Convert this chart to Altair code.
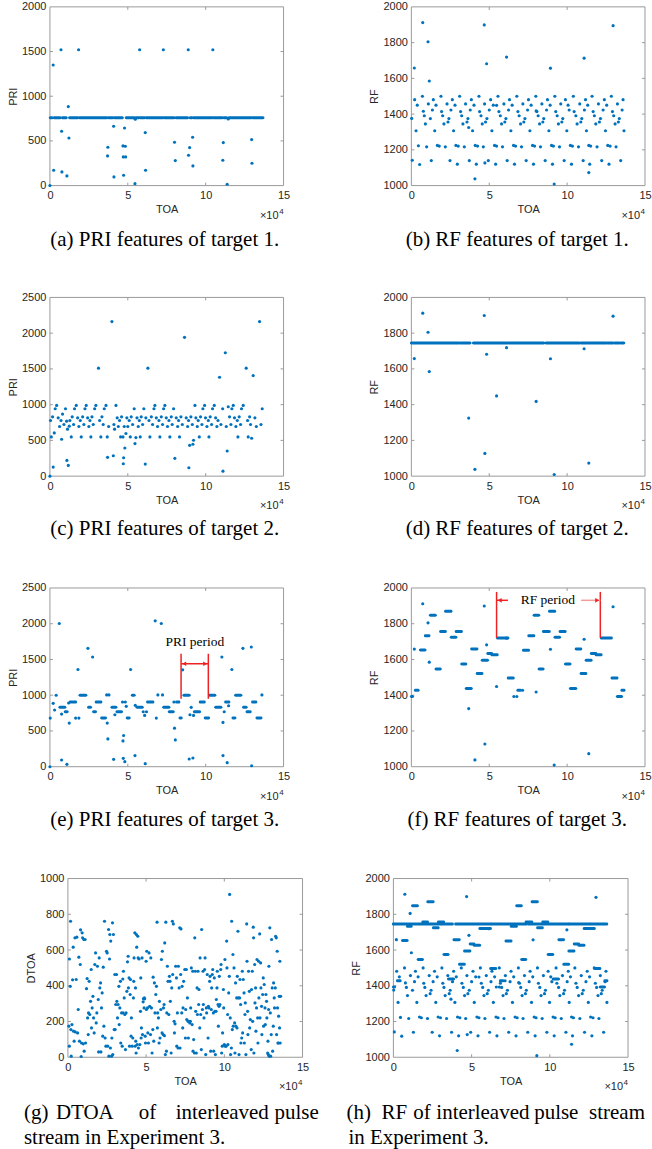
import altair as alt
import pandas as pd

BLUE = "#0072BD"
AX = "#9a9a9a"
TXT = "#262626"
RED = "#ee2222"
SANS = "Liberation Sans"
SERIF = "Liberation Serif"

# ---------------- data (TOA in units of 1e4) ----------------
noise_pts = [(0.19, 1658), (0.73, 1912), (1.07, 1805), (1.15, 1585), (3.68, 1325), (4.08, 1038),
             (4.68, 1899), (4.72, 1127), (4.83, 1682), (5.47, 1449), (6.11, 1719), (8.01, 1418),
             (8.93, 1657), (9.17, 1009), (11.09, 1713), (11.39, 1073), (12.95, 1895)]

a_line_level = 760
a_line_segs = [(0.02, 0.15), (0.27, 0.66), (0.8, 1.05), (1.26, 1.8), (1.9, 3.66), (3.76, 4.05),
               (4.15, 4.65), (4.9, 5.42), (5.52, 5.72), (5.8, 6.08), (6.18, 7.24), (7.32, 7.97),
               (8.09, 8.84), (9.0, 9.12), (9.22, 10.42), (10.5, 11.07), (11.17, 11.35),
               (11.49, 12.92), (13.01, 13.68)]
a_pts = [(0, 0), (0.21, 1350), (0.24, 172), (0.71, 1520), (0.75, 608), (0.77, 153), (1.09, 108),
         (1.18, 884), (1.22, 533), (1.84, 1520), (3.70, 332), (3.72, 429), (4.09, 664), (4.11, 97),
         (4.69, 444), (4.71, 321), (4.73, 116), (4.79, 645), (4.84, 440), (4.86, 321), (5.46, 22),
         (5.48, 742), (5.76, 1520), (6.12, 593), (6.14, 172), (7.28, 1520), (8.0, 485), (8.05, 280),
         (8.88, 1520), (8.9, 340), (8.97, 425), (9.16, 541), (9.18, 220), (10.46, 1520), (11.1, 284),
         (11.13, 481), (11.38, 15), (11.45, 746), (12.95, 515), (12.97, 250)]

b_pts = [(0.02, 1376), (0.06, 1142), (0.21, 1481), (0.30, 1307), (0.38, 1450), (0.45, 1223), (0.53, 1118),
         (0.71, 1500), (0.77, 1416), (0.83, 1391), (0.90, 1345), (0.98, 1217), (1.09, 1457), (1.22, 1375),
         (1.28, 1140), (1.35, 1423), (1.41, 1481), (1.50, 1307), (1.58, 1450), (1.67, 1225), (1.79, 1221),
         (1.90, 1500), (1.94, 1414), (2.01, 1391), (2.09, 1345), (2.18, 1217), (2.29, 1457), (2.35, 1356),
         (2.41, 1375), (2.48, 1140), (2.54, 1423), (2.63, 1481), (2.71, 1307), (2.80, 1450), (2.86, 1225),
         (2.95, 1120), (3.01, 1221), (3.10, 1500), (3.16, 1414), (3.23, 1391), (3.31, 1345), (3.40, 1217),
         (3.48, 1457), (3.57, 1356), (3.63, 1375), (3.72, 1140), (3.78, 1423), (3.85, 1481), (3.93, 1307),
         (4.02, 1450), (4.10, 1225), (4.17, 1120), (4.25, 1221), (4.34, 1500), (4.38, 1414), (4.47, 1391),
         (4.55, 1345), (4.62, 1217), (4.70, 1457), (4.76, 1356), (4.85, 1375), (4.94, 1140), (5.00, 1423),
         (5.09, 1481), (5.17, 1307), (5.26, 1450), (5.34, 1225), (5.41, 1120), (5.47, 1221), (5.56, 1500),
         (5.62, 1414), (5.71, 1391), (5.79, 1345), (5.85, 1217), (5.94, 1457), (6.00, 1356), (6.07, 1375),
         (6.15, 1140), (6.24, 1423), (6.30, 1481), (6.39, 1307), (6.47, 1450), (6.56, 1225), (6.62, 1120),
         (6.69, 1221), (6.77, 1500), (6.84, 1414), (6.92, 1391), (7.01, 1345), (7.07, 1217), (7.16, 1457),
         (7.22, 1356), (7.29, 1375), (7.37, 1140), (7.46, 1423), (7.52, 1481), (7.61, 1307), (7.69, 1450),
         (7.78, 1225), (7.84, 1120), (7.91, 1221), (7.99, 1500), (8.06, 1414), (8.14, 1391), (8.23, 1345),
         (8.29, 1217), (8.38, 1457), (8.44, 1356), (8.50, 1375), (8.59, 1140), (8.68, 1423), (8.74, 1481),
         (8.83, 1307), (8.91, 1450), (9.00, 1225), (9.06, 1120), (9.12, 1221), (9.21, 1500), (9.27, 1414),
         (9.36, 1391), (9.44, 1345), (9.51, 1217), (9.59, 1457), (9.66, 1356), (9.72, 1375), (9.81, 1140),
         (9.89, 1481), (9.98, 1307), (10.06, 1450), (10.13, 1423), (10.21, 1225), (10.28, 1120),
         (10.34, 1221), (10.40, 1500), (10.45, 1414), (10.56, 1391), (10.64, 1345), (10.73, 1217),
         (10.81, 1457), (10.88, 1356), (10.94, 1375), (11.03, 1140), (11.11, 1423), (11.18, 1481),
         (11.24, 1307), (11.32, 1450), (11.39, 1225), (11.45, 1120), (11.51, 1221), (11.60, 1500),
         (11.67, 1414), (11.75, 1391), (11.84, 1345), (11.92, 1217), (12.01, 1457), (12.07, 1356),
         (12.14, 1375), (12.22, 1140), (12.31, 1423), (12.39, 1481), (12.46, 1307), (12.54, 1450),
         (12.61, 1225), (12.69, 1120), (12.76, 1221), (12.84, 1500), (12.91, 1414), (12.99, 1391),
         (13.08, 1345), (13.14, 1217), (13.23, 1457), (13.29, 1356), (13.35, 1375), (13.44, 1140),
         (13.53, 1423), (13.59, 1481), (13.65, 1307)]

c_pts = [(0, 0), (0.04, 779), (0.09, 549), (0.17, 830), (0.21, 127), (0.28, 605), (0.34, 943), (0.43, 990),
         (0.53, 816), (0.62, 694), (0.71, 779), (0.75, 516), (0.81, 868), (0.9, 722), (1.0, 943), (1.07, 769),
         (1.09, 220), (1.13, 657), (1.18, 150), (1.24, 699), (1.28, 779), (1.37, 549), (1.43, 830), (1.52, 722),
         (1.58, 943), (1.69, 990), (1.78, 816), (1.86, 694), (1.95, 779), (2.01, 549), (2.1, 830), (2.18, 722),
         (2.25, 943), (2.33, 990), (2.42, 816), (2.5, 694), (2.57, 779), (2.63, 549), (2.7, 830), (2.78, 722),
         (2.87, 943), (2.95, 990), (3.12, 1510), (3.19, 779), (3.27, 549), (3.34, 830), (3.42, 722),
         (3.49, 943), (3.6, 990), (3.68, 549), (3.7, 263), (3.77, 694), (3.98, 2162), (4.07, 286), (4.11, 722),
         (4.15, 657), (4.24, 990), (4.32, 816), (4.39, 694), (4.47, 779), (4.54, 549), (4.6, 830), (4.69, 549),
         (4.71, 174), (4.73, 258), (4.77, 694), (4.81, 394), (4.88, 596), (4.94, 816), (5.0, 694), (5.09, 779),
         (5.16, 549), (5.22, 830), (5.31, 722), (5.41, 943), (5.46, 455), (5.52, 539), (5.59, 816), (5.67, 694),
         (5.74, 779), (5.8, 549), (5.86, 830), (5.95, 722), (6.03, 943), (6.12, 169), (6.16, 816), (6.29, 1510),
         (6.36, 779), (6.42, 549), (6.51, 830), (6.59, 722), (6.68, 943), (6.74, 990), (6.83, 816), (6.91, 694),
         (7.0, 779), (7.06, 549), (7.15, 830), (7.23, 722), (7.3, 943), (7.38, 990), (7.47, 816), (7.55, 694),
         (7.64, 779), (7.7, 549), (7.79, 830), (7.85, 722), (7.94, 943), (8.02, 249), (8.11, 816), (8.2, 694),
         (8.26, 779), (8.32, 549), (8.41, 830), (8.5, 722), (8.64, 1942), (8.75, 816), (8.84, 694), (8.9, 779),
         (8.92, 117), (8.97, 431), (9.05, 830), (9.14, 722), (9.18, 446), (9.22, 502), (9.31, 990), (9.37, 816),
         (9.46, 694), (9.52, 779), (9.59, 549), (9.67, 830), (9.76, 722), (9.82, 943), (9.93, 990), (9.99, 816),
         (10.08, 694), (10.17, 779), (10.21, 549), (10.29, 830), (10.38, 722), (10.44, 943), (10.55, 990),
         (10.64, 816), (10.72, 694), (10.79, 779), (10.89, 1384), (10.98, 722), (11.09, 943), (11.11, 70),
         (11.26, 1726), (11.32, 694), (11.38, 352), (11.45, 971), (11.53, 830), (11.62, 722), (11.68, 943),
         (11.77, 990), (11.85, 816), (11.94, 694), (12.03, 779), (12.07, 549), (12.15, 830), (12.24, 722),
         (12.3, 943), (12.41, 990), (12.6, 1510), (12.69, 779), (12.73, 549), (12.82, 830), (12.88, 722),
         (12.95, 530), (13.05, 1407), (13.16, 816), (13.25, 694), (13.46, 2162), (13.55, 722), (13.63, 943)]

d_line_level = 1745
d_line_segs = [(0.0, 3.04), (3.12, 3.77), (3.98, 6.21), (6.29, 8.5), (8.64, 10.8), (10.89, 11.19),
               (11.26, 12.52), (12.6, 12.95), (13.05, 13.37), (13.46, 13.64)]

e_runs = [(0.64, 0.96, 830), (0.98, 1.11, 770), (1.3, 1.65, 905), (1.93, 2.31, 1000), (2.48, 2.61, 830),
          (2.8, 2.93, 770), (2.97, 3.27, 905), (3.32, 3.57, 680), (3.98, 4.24, 830), (4.3, 4.6, 770),
          (4.96, 5.09, 680), (5.29, 5.41, 1000), (5.59, 5.93, 830), (6.27, 6.61, 905), (7.3, 7.64, 830),
          (7.66, 7.92, 770), (8.13, 8.28, 905), (8.35, 8.43, 680), (8.6, 8.94, 1000), (9.27, 9.61, 770),
          (9.65, 9.91, 905), (9.97, 10.19, 680), (10.25, 10.59, 1000), (10.64, 10.98, 830),
          (11.28, 11.49, 905), (11.75, 11.88, 680), (11.92, 12.26, 1000), (12.43, 12.6, 830),
          (12.65, 12.86, 770), (13.01, 13.22, 905), (13.29, 13.55, 680)]
e_pts = [(0, 0), (0.02, 680), (0.21, 886), (0.3, 793), (0.4, 1000), (0.6, 2003), (0.75, 736), (0.75, 94),
         (1.09, 33), (1.2, 891), (1.24, 610), (1.65, 680), (1.8, 1360), (1.86, 680), (2.44, 1656),
         (2.74, 1534), (3.64, 1004), (3.68, 610), (3.72, 389), (3.79, 1004), (4.09, 103), (4.17, 727),
         (4.66, 905), (4.69, 361), (4.71, 117), (4.73, 436), (4.81, 70), (4.84, 905), (4.9, 844),
         (5.18, 1360), (5.46, 155), (5.48, 858), (5.99, 769), (6.08, 717), (6.12, 42), (6.2, 769),
         (6.76, 2040), (6.83, 680), (6.93, 1004), (7.15, 2003), (7.23, 1004), (7.96, 905), (8.0, 539),
         (8.05, 375), (8.52, 1355), (8.94, 108), (8.99, 727), (9.07, 830), (9.18, 122), (9.22, 717),
         (11.04, 1534), (11.11, 619), (11.11, 155), (11.19, 769), (11.38, 56), (11.47, 853), (11.68, 1360),
         (12.39, 1656), (12.93, 1675), (12.95, 14), (13.61, 1004)]
e_period_toa = [8.42, 10.17]
e_period_span = (950, 1580)
e_arrow_level = 1440
e_label = ("PRI period", 9.3, 1690)

f_runs = [(0.0, 0.08, 1393), (0.26, 0.43, 1428), (0.58, 0.88, 1653), (0.9, 1.13, 1733), (1.22, 1.54, 1848),
          (1.58, 1.86, 1547), (1.88, 2.18, 1757), (2.2, 2.54, 1870), (2.56, 2.86, 1725), (2.88, 3.21, 1757),
          (3.23, 3.5, 1575), (3.52, 3.85, 1438), (3.87, 4.21, 1658), (4.23, 4.53, 1521), (4.55, 4.89, 1595),
          (4.91, 5.15, 1634), (5.17, 5.51, 1627), (5.53, 6.2, 1720), (6.22, 6.54, 1497), (6.84, 7.0, 1428),
          (7.2, 7.52, 1651), (7.54, 7.86, 1733), (7.88, 8.18, 1848), (8.2, 8.46, 1547), (8.48, 8.85, 1757),
          (8.87, 9.2, 1870), (9.22, 9.52, 1725), (9.55, 9.87, 1757), (9.89, 10.19, 1575),
          (10.21, 10.56, 1438), (10.58, 10.88, 1658), (10.9, 11.2, 1521), (11.22, 11.54, 1595),
          (11.56, 11.84, 1634), (11.86, 12.18, 1627), (12.2, 12.84, 1720), (12.88, 13.2, 1497),
          (13.22, 13.5, 1393), (13.52, 13.65, 1428)]
f_pts = [(6.58, 1393), (6.77, 1393), (7.14, 1428)]
f_period_toa = [5.47, 12.13]
f_period_span = (1721, 1978)
f_arrow_level = 1931
f_arrow_left = (5.47, 6.2)
f_arrow_right = (10.9, 12.13)
f_label = ("RF period", 8.76, 1911)

g_pts = [
    (0.06, 174), (0.09, 62), (0.1, 550), (0.15, 397), (0.17, 761), (0.19, 155), (0.21, 6), (0.26, 183),
    (0.3, 433), (0.34, 616), (0.36, 146), (0.4, 90), (0.45, 668), (0.47, 142), (0.53, 435), (0.57, 672),
    (0.62, 136), (0.66, 267), (0.7, 560), (0.74, 90), (0.79, 519), (0.81, 713), (0.85, 4), (0.87, 80),
    (0.91, 696), (0.94, 668), (0.98, 75), (1.02, 659), (1.04, 34), (1.1, 659),
    (1.13, 80), (1.19, 384), (1.23, 440), (1.26, 220), (1.3, 127), (1.32, 248), (1.36, 425), (1.4, 239),
    (1.45, 313), (1.49, 491), (1.51, 164), (1.55, 276), (1.6, 341), (1.64, 220), (1.68, 136), (1.72, 519),
    (1.77, 584), (1.81, 192), (1.85, 248), (1.89, 509), (1.94, 323), (1.96, 30), (2.0, 556), (2.04, 388),
    (2.09, 416), (2.11, 30),
    (2.15, 276), (2.19, 360), (2.23, 118), (2.26, 504), (2.3, 174), (2.34, 761), (2.38, 108), (2.43, 62),
    (2.47, 593), (2.51, 584), (2.55, 62), (2.6, 715), (2.62, 6), (2.66, 550), (2.68, 687), (2.72, 52),
    (2.74, 650), (2.79, 6), (2.81, 108), (2.85, 752), (2.87, 15), (2.91, 687), (2.96, 155), (3.0, 463),
    (3.02, 155), (3.06, 295), (3.11, 463), (3.13, 313), (3.17, 220),
    (3.21, 295), (3.26, 397), (3.28, 183), (3.32, 276), (3.36, 425), (3.38, 80), (3.43, 248), (3.47, 62),
    (3.51, 438), (3.53, 248), (3.55, 481), (3.6, 332), (3.64, 239), (3.68, 43), (3.72, 248), (3.77, 369),
    (3.81, 534), (3.85, 565), (3.87, 388), (3.91, 444), (3.94, 62), (3.98, 351), (4.0, 435), (4.04, 118),
    (4.06, 220), (4.11, 62), (4.15, 108), (4.19, 332), (4.21, 425), (4.23, 556),
    (4.28, 696), (4.3, 62), (4.32, 388), (4.34, 90), (4.36, 24), (4.38, 687), (4.4, 616), (4.43, 71),
    (4.47, 677), (4.49, 556), (4.51, 52), (4.55, 550), (4.6, 71), (4.64, 257), (4.66, 444), (4.68, 108),
    (4.7, 164), (4.74, 556), (4.77, 127), (4.81, 310), (4.83, 328), (4.87, 276), (4.89, 332), (4.91, 327),
    (4.94, 118), (4.96, 80), (5.0, 537), (5.02, 267), (5.04, 593), (5.09, 276), (5.11, 136), (5.15, 80),
    (5.19, 584), (5.23, 285), (5.28, 127), (5.3, 556),
    (5.34, 276), (5.38, 24), (5.43, 155), (5.45, 448), (5.49, 90), (5.53, 416), (5.57, 248), (5.62, 351),
    (5.66, 397), (5.7, 756), (5.72, 164), (5.74, 248), (5.79, 220), (5.83, 80), (5.85, 313), (5.89, 108),
    (5.94, 267), (5.98, 547), (6.02, 136), (6.04, 593), (6.09, 127), (6.11, 276), (6.15, 295), (6.17, 121),
    (6.19, 640), (6.23, 15), (6.26, 756), (6.3, 34), (6.32, 248), (6.36, 509),
    (6.4, 425), (6.45, 239), (6.49, 453), (6.53, 425), (6.55, 313), (6.6, 24), (6.64, 388), (6.68, 761),
    (6.7, 463), (6.74, 746), (6.79, 201), (6.81, 136), (6.85, 187), (6.89, 509), (6.94, 444), (6.96, 62),
    (7.0, 248), (7.04, 52), (7.06, 509), (7.11, 388), (7.15, 724), (7.17, 52), (7.21, 463), (7.23, 718),
    (7.28, 248), (7.3, 397), (7.34, 164), (7.36, 276), (7.4, 425),
    (7.47, 491), (7.51, 108), (7.53, 267), (7.57, 491), (7.6, 211), (7.64, 332), (7.68, 201), (7.7, 108),
    (7.74, 201), (7.79, 192), (7.83, 201), (7.85, 276), (7.89, 500), (7.94, 183), (7.98, 481), (8.0, 34),
    (8.04, 99), (8.09, 24), (8.11, 668), (8.15, 481), (8.17, 257), (8.21, 24), (8.26, 388), (8.28, 239),
    (8.32, 481), (8.36, 295), (8.38, 379), (8.43, 164), (8.45, 556), (8.49, 239),
    (8.53, 43), (8.55, 715), (8.6, 267), (8.64, 481), (8.66, 295), (8.7, 220), (8.74, 491), (8.77, 556),
    (8.81, 15), (8.85, 276), (8.87, 248), (8.91, 463), (8.96, 108), (8.98, 285), (9.02, 276), (9.06, 425),
    (9.09, 453), (9.13, 34), (9.17, 267), (9.19, 388), (9.23, 463), (9.26, 491), (9.3, 248), (9.32, 34),
    (9.36, 444), (9.4, 257), (9.43, 15), (9.47, 257), (9.49, 323), (9.53, 388), (9.55, 481),
    (9.6, 295), (9.62, 174), (9.66, 285), (9.68, 453), (9.72, 295), (9.77, 491), (9.79, 519), (9.83, 24),
    (9.87, 62), (9.89, 136), (9.94, 379), (9.96, 276), (10.0, 71), (10.04, 547), (10.06, 62), (10.11, 62),
    (10.15, 650), (10.17, 500), (10.21, 239), (10.23, 71), (10.28, 360), (10.32, 453), (10.34, 911),
    (10.38, 220), (10.4, 15), (10.45, 52), (10.47, 761), (10.51, 155), (10.55, 575), (10.57, 174),
    (10.62, 500),
    (10.66, 192), (10.68, 24), (10.72, 416), (10.74, 174), (10.79, 332), (10.81, 164), (10.83, 453),
    (10.87, 705), (10.89, 332), (10.94, 15), (10.98, 332), (11.0, 435), (11.04, 295), (11.06, 80),
    (11.11, 108), (11.15, 481), (11.17, 136), (11.21, 435), (11.26, 360), (11.28, 80), (11.32, 239),
    (11.34, 304), (11.38, 15), (11.43, 746), (11.45, 537), (11.49, 257), (11.51, 127), (11.55, 481),
    (11.6, 369), (11.62, 164), (11.66, 211),
    (11.72, 43), (11.74, 379), (11.79, 481), (11.81, 201), (11.85, 728), (11.87, 668), (11.89, 24),
    (11.94, 519), (11.96, 304), (12.0, 388), (12.02, 146), (12.06, 276), (12.09, 547), (12.13, 220),
    (12.15, 80), (12.19, 537), (12.21, 332), (12.26, 690), (12.28, 220), (12.32, 528), (12.34, 388),
    (12.38, 285), (12.4, 127), (12.45, 351), (12.49, 444), (12.51, 174), (12.55, 407), (12.6, 276),
    (12.62, 183), (12.66, 351), (12.7, 313), (12.72, 220),
    (12.77, 24), (12.79, 90), (12.81, 15), (12.83, 267), (12.85, 509), (12.87, 6), (12.91, 724),
    (12.94, 248), (12.96, 6), (13.0, 127), (13.02, 659), (13.06, 388), (13.09, 34), (13.13, 174),
    (13.15, 416), (13.19, 332), (13.21, 276), (13.26, 388), (13.28, 677), (13.32, 668), (13.34, 127),
    (13.38, 593), (13.4, 276), (13.43, 80), (13.45, 80), (13.47, 230), (13.51, 341), (13.53, 164),
    (13.55, 537), (13.57, 80), (13.6, 341)]

x_ticks = [0, 5, 10, 15]

# ---------------- helpers ----------------
H = 179
ONE = pd.DataFrame({"k": [0]})


def pts_df(pairs):
    return pd.DataFrame(pairs, columns=["t", "v"])


def segs_df(triples):
    return pd.DataFrame(triples, columns=["t0", "t1", "v"])


def panel(pts, segs, ydom, ystep, ytitle, x0, pw, captions, extra=()):
    xs = alt.Scale(domain=[0, 15], range=[x0, x0 + pw], nice=False, zero=False)
    ys = alt.Scale(domain=list(ydom), nice=False, zero=False)
    yvals = list(range(ydom[0], ydom[1] + 1, ystep))
    xax = alt.Axis(values=x_ticks, title="TOA", labelFlush=False, format="d")
    if x0:
        yax = alt.Axis(values=yvals, title=ytitle, offset=-x0, format="d")
    else:
        yax = alt.Axis(values=yvals, title=ytitle, format="d")
    X = lambda f: alt.X(f, type="quantitative", scale=xs, axis=xax)
    Y = lambda f: alt.Y(f, type="quantitative", scale=ys, axis=yax)

    layers = []
    layers.append(alt.Chart(ONE).mark_rect(filled=False, stroke=AX, strokeWidth=1).encode(
        x=alt.value(x0), x2=alt.value(x0 + pw), y=alt.value(0), y2=alt.value(H)))
    xt = pd.DataFrame({"t": x_ticks[1:-1]})
    yt = pd.DataFrame({"t": yvals[1:-1]})
    layers.append(alt.Chart(xt).mark_rule(color=AX, strokeWidth=1).encode(
        x=X("t"), y=alt.value(H), y2=alt.value(H - 3)))
    layers.append(alt.Chart(xt).mark_rule(color=AX, strokeWidth=1).encode(
        x=X("t"), y=alt.value(0), y2=alt.value(3)))
    layers.append(alt.Chart(yt).mark_rule(color=AX, strokeWidth=1).encode(
        y=Y("t"), x=alt.value(x0), x2=alt.value(x0 + 3)))
    layers.append(alt.Chart(yt).mark_rule(color=AX, strokeWidth=1).encode(
        y=Y("t"), x=alt.value(x0 + pw), x2=alt.value(x0 + pw - 3)))
    for s in segs:
        layers.append(alt.Chart(s).mark_rule(color=BLUE, strokeWidth=3, strokeCap="round").encode(
            x=X("t0"), x2="t1:Q", y=Y("v")))
    for p in pts:
        layers.append(alt.Chart(p).mark_circle(size=10, color=BLUE, opacity=1).encode(
            x=X("t"), y=Y("v")))
    for fn in extra:
        layers.extend(fn(X, Y))
    layers.append(alt.Chart(ONE).mark_text(text="\u00d710", align="right", baseline="alphabetic",
                                           font=SANS, fontSize=11, color=TXT).encode(
        x=alt.value(x0 + pw - 5), y=alt.value(H + 33)))
    layers.append(alt.Chart(ONE).mark_text(text="4", align="right", baseline="alphabetic",
                                           font=SANS, fontSize=8, color=TXT).encode(
        x=alt.value(x0 + pw), y=alt.value(H + 28)))
    for txt, dx, dy, al in captions:
        layers.append(alt.Chart(ONE).mark_text(text=txt, align=al, baseline="alphabetic",
                                               font=SERIF, fontSize=21, color="black").encode(
            x=alt.value(dx), y=alt.value(dy)))
    return alt.layer(*layers).properties(width=x0 + pw, height=H)


def e_annot(X, Y):
    lines = pd.DataFrame({"t": e_period_toa, "y0": [e_period_span[0]] * 2, "y1": [e_period_span[1]] * 2})
    shaft = pd.DataFrame({"t0": [e_period_toa[0]], "t1": [e_period_toa[1]], "v": [e_arrow_level]})
    heads = pd.DataFrame({"t": [e_period_toa[0] + 0.2, e_period_toa[1] - 0.2], "v": [e_arrow_level] * 2,
                          "s": ["triangle-left", "triangle-right"]})
    lab = pd.DataFrame({"t": [e_label[1]], "v": [e_label[2]], "txt": [e_label[0]]})
    return [
        alt.Chart(lines).mark_rule(color=RED, strokeWidth=1.5).encode(x=X("t"), y=Y("y0"), y2="y1:Q"),
        alt.Chart(shaft).mark_rule(color=RED, strokeWidth=1.5).encode(x=X("t0"), x2="t1:Q", y=Y("v")),
        alt.Chart(heads).mark_point(filled=True, color=RED, size=22, opacity=1).encode(
            x=X("t"), y=Y("v"), shape=alt.Shape("s:N", scale=None)),
        alt.Chart(lab).mark_text(font=SERIF, fontSize=13.5, color="black", baseline="alphabetic").encode(
            x=X("t"), y=Y("v"), text="txt:N"),
    ]


def f_annot(X, Y):
    lines = pd.DataFrame({"t": f_period_toa, "y0": [f_period_span[0]] * 2, "y1": [f_period_span[1]] * 2})
    left = pd.DataFrame({"t0": [f_arrow_left[0]], "t1": [f_arrow_left[1]], "v": [f_arrow_level]})
    right = pd.DataFrame({"t0": [f_arrow_right[0]], "t1": [f_arrow_right[1]], "v": [f_arrow_level]})
    heads = pd.DataFrame({"t": [f_period_toa[0] + 0.2, f_period_toa[1] - 0.2], "v": [f_arrow_level] * 2,
                          "s": ["triangle-left", "triangle-right"]})
    lab = pd.DataFrame({"t": [f_label[1]], "v": [f_label[2]], "txt": [f_label[0]]})
    return [
        alt.Chart(lines).mark_rule(color=RED, strokeWidth=1.5).encode(x=X("t"), y=Y("y0"), y2="y1:Q"),
        alt.Chart(left).mark_rule(color=RED, strokeWidth=1.5).encode(x=X("t0"), x2="t1:Q", y=Y("v")),
        alt.Chart(right).mark_rule(color="#f49a9a", strokeWidth=1.5).encode(x=X("t0"), x2="t1:Q", y=Y("v")),
        alt.Chart(heads).mark_point(filled=True, color=RED, size=22, opacity=1).encode(
            x=X("t"), y=Y("v"), shape=alt.Shape("s:N", scale=None)),
        alt.Chart(lab).mark_text(font=SERIF, fontSize=13.5, color="black", baseline="alphabetic").encode(
            x=X("t"), y=Y("v"), text="txt:N"),
    ]


a_segs = segs_df([(s, e, a_line_level) for s, e in a_line_segs])
d_segs = segs_df([(s, e, d_line_level) for s, e in d_line_segs])

pa = panel([pts_df(a_pts)], [a_segs], (0, 2000), 500, "PRI", 0, 234,
           [("(a) PRI features of target 1.", 115, 239, "center")])
pb = panel([pts_df(b_pts), pts_df(noise_pts)], [], (1000, 2000), 200, "RF", 18, 234,
           [("(b) RF features of target 1.", 124, 239, "center")])
pc = panel([pts_df(c_pts)], [], (0, 2500), 500, "PRI", 0, 234,
           [("(c) PRI features of target 2.", 115, 238, "center")])
pd_ = panel([pts_df(noise_pts)], [d_segs], (1000, 2000), 200, "RF", 18, 234,
            [("(d) RF features of target 2.", 124, 238, "center")])
pe = panel([pts_df(e_pts)], [segs_df(e_runs)], (0, 2500), 500, "PRI", 0, 234,
           [("(e) PRI features of target 3.", 115, 238, "center")], extra=[e_annot])
pf = panel([pts_df(f_pts), pts_df(noise_pts)], [segs_df(f_runs)], (1000, 2000), 200, "RF", 18, 234,
           [("(f) RF features of target 3.", 124, 238, "center")], extra=[f_annot])
pg = panel([pts_df(g_pts)], [], (0, 1000), 200, "DTOA", 18, 235,
           [("(g)", -26, 241, "left"), ("DTOA", 6, 241, "left"), ("of", 89, 241, "left"),
            ("interleaved", 126, 241, "left"), ("pulse", 225, 241, "left"),
            ("stream in Experiment 3.", -26, 266, "left")])
ph = panel([pts_df(b_pts), pts_df(noise_pts), pts_df(f_pts)], [d_segs, segs_df(f_runs)],
           (1000, 2000), 200, "RF", 0, 235,
           [("(h)", -47, 241, "left"), ("RF", -12, 241, "left"), ("of", 20, 241, "left"),
            ("interleaved", 43, 241, "left"), ("pulse", 141, 241, "left"), ("stream", 196, 241, "left"),
            ("in Experiment 3.", -45, 266, "left")])

chart = alt.concat(pa, pb, pc, pd_, pe, pf, pg, ph, columns=2,
                   spacing={"row": 112, "column": 91}, bounds="flush").properties(
    padding={"left": 7, "top": 0, "right": 0, "bottom": 0}
).configure_view(stroke=None).configure_axis(
    grid=False, domain=False, ticks=False, labelFont=SANS, titleFont=SANS, labelFontSize=11,
    titleFontSize=11, labelColor=TXT, titleColor=TXT, titleFontWeight="normal", labelPadding=4,
    titlePadding=3)

chart.save("out.html", embed_options={"renderer": "svg", "actions": False})
